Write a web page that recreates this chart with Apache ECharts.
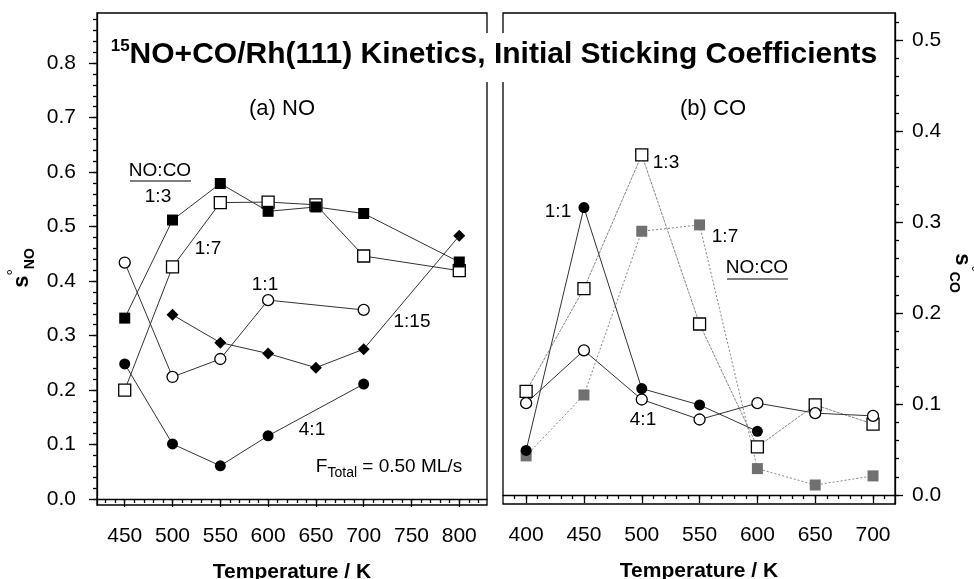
<!DOCTYPE html>
<html>
<head>
<meta charset="utf-8">
<script src="https://cdn.jsdelivr.net/npm/echarts@6/dist/echarts.min.js"></script>
<style>
  html, body { margin: 0; padding: 0; background: #fff; }
  #chart { width: 974px; height: 579px; }
</style>
</head>
<body>
<div id="chart"></div>
<script>
// (a) NO sticking coefficients
const tempsNO = [450, 500, 550, 600, 650, 700, 800];
const no13 = [0.332, 0.512, 0.579, 0.528, 0.536, 0.524, 0.435];
const no17 = [0.200, 0.426, 0.544, 0.545, 0.540, 0.446, 0.419];
const no11 = [0.434, 0.224, 0.257, 0.365, null, 0.347, null];
const no115 = [null, 0.338, 0.287, 0.267, 0.241, 0.275, 0.483];
const no41 = [0.248, 0.101, 0.061, 0.116, null, 0.211, null];

// (b) CO sticking coefficients
const tempsCO = [400, 450, 500, 550, 600, 650, 700];
const co13 = [0.114, 0.227, 0.374, 0.188, 0.053, 0.099, 0.078];
const co11 = [0.049, 0.316, 0.117, 0.099, 0.070, null, null];
const co41 = [0.101, 0.159, 0.105, 0.083, 0.101, 0.090, 0.087];
const co17 = [0.043, 0.110, 0.290, 0.297, 0.029, 0.011, 0.021];

// tick labels
const xTicksNO = [450, 500, 550, 600, 650, 700, 750, 800];
const xTicksCO = [400, 450, 500, 550, 600, 650, 700];
const yTicksNO = [0, 0.1, 0.2, 0.3, 0.4, 0.5, 0.6, 0.7, 0.8];
const yTicksCO = [0, 0.1, 0.2, 0.3, 0.4, 0.5];

const FONT = '"Liberation Sans", Arial, Helvetica, sans-serif';

function pairs(xs, ys) {
  return xs.map((x, i) => [x, ys[i]]).filter(p => p[1] != null);
}
function steps(from, to, step) {
  const out = [];
  for (let v = from; v <= to + 1e-9; v += step) out.push(+v.toFixed(4));
  return out;
}

const chart = echarts.init(document.getElementById('chart'));

const lineAxis = { lineStyle: { color: '#000', width: 1.3 } };
const tickStyle = { color: '#000', width: 1.3 };
const labelStyle = { color: '#000', fontSize: 21, fontFamily: FONT };
const nameStyle = { color: '#000', fontSize: 21, fontWeight: 'bold', fontFamily: FONT };

function majorX(grid, min, max, ticks) {
  return {
    gridIndex: grid, type: 'value', min: min, max: max, position: 'bottom',
    axisLine: lineAxis,
    axisTick: { customValues: ticks, length: 8, lineStyle: tickStyle },
    axisLabel: Object.assign({ customValues: ticks, margin: 21 }, labelStyle),
    splitLine: { show: false },
    name: 'Temperature / K', nameLocation: 'middle', nameGap: 57, nameTextStyle: nameStyle
  };
}
function minorAxis(grid, min, max, ticks, pos) {
  return {
    gridIndex: grid, type: 'value', min: min, max: max, position: pos,
    axisLine: { show: false },
    axisTick: { customValues: ticks, length: 4, lineStyle: tickStyle },
    axisLabel: { show: false },
    splitLine: { show: false }
  };
}
function majorY(grid, min, max, ticks, pos, margin) {
  return {
    gridIndex: grid, type: 'value', min: min, max: max, position: pos,
    axisLine: Object.assign({ show: true }, lineAxis),
    axisTick: { customValues: ticks, length: 8, lineStyle: tickStyle },
    axisLabel: Object.assign({ customValues: ticks, margin: margin, formatter: v => v.toFixed(1) }, labelStyle),
    splitLine: { show: false }
  };
}

const filledSq = { symbol: 'rect', symbolSize: 11, itemStyle: { color: '#000' } };
const openSq = { symbol: 'rect', symbolSize: 12, itemStyle: { color: '#fff', borderColor: '#000', borderWidth: 1.3 } };
const filledCi = { symbol: 'circle', symbolSize: 11, itemStyle: { color: '#000' } };
const openCi = { symbol: 'circle', symbolSize: 11, itemStyle: { color: '#fff', borderColor: '#000', borderWidth: 1.3 } };
const diamond = { symbol: 'diamond', symbolSize: 12, itemStyle: { color: '#000' } };
const graySq = { symbol: 'rect', symbolSize: 11, itemStyle: { color: '#707070' } };

function line(name, grid, data, marker, lineStyle) {
  return Object.assign({
    name: name, type: 'line', xAxisIndex: grid * 2, yAxisIndex: grid * 2,
    data: data, connectNulls: true, animation: false, silent: true,
    lineStyle: Object.assign({ color: '#333', width: 1 }, lineStyle || {})
  }, marker);
}

function label(text, x, y, size) {
  return {
    type: 'text', x: x, y: y, z: 60,
    style: { text: text, fill: '#000', fontSize: size || 19, fontFamily: FONT, align: 'center', verticalAlign: 'middle' }
  };
}
function underline(x1, x2, y) {
  return { type: 'line', z: 60, shape: { x1: x1, y1: y, x2: x2, y2: y }, style: { stroke: '#000', lineWidth: 1.2 } };
}

chart.setOption({
  backgroundColor: '#fff',
  animation: false,
  grid: [
    { left: 97, top: 13, width: 390, height: 492, show: true, borderColor: '#000', borderWidth: 1.3, outerBoundsMode: 'none', containLabel: false },
    { left: 503, top: 13, width: 392, height: 491, show: true, borderColor: '#000', borderWidth: 1.3, outerBoundsMode: 'none', containLabel: false }
  ],
  xAxis: [
    majorX(0, 421, 829, xTicksNO),
    minorAxis(0, 421, 829, steps(430, 820, 10), 'bottom'),
    majorX(1, 380, 719, xTicksCO),
    minorAxis(1, 380, 719, steps(390, 710, 10), 'bottom')
  ],
  yAxis: [
    majorY(0, -0.011, 0.892, yTicksNO, 'left', 21),
    minorAxis(0, -0.011, 0.892, steps(0, 0.88, 0.02), 'left'),
    majorY(1, -0.0099, 0.530, yTicksCO, 'right', 17),
    minorAxis(1, -0.0099, 0.530, steps(0, 0.52, 0.02), 'right')
  ],
  series: [
    line('NO 1:7', 0, pairs(tempsNO, no17), openSq),
    line('NO 1:3', 0, pairs(tempsNO, no13), filledSq),
    line('NO 1:1', 0, pairs(tempsNO, no11), openCi),
    line('NO 1:15', 0, pairs(tempsNO, no115), diamond),
    line('NO 4:1', 0, pairs(tempsNO, no41), filledCi),
    line('CO 1:7', 1, pairs(tempsCO, co17), graySq, { color: '#777', width: 0.9, type: [2, 2] }),
    line('CO 1:3', 1, pairs(tempsCO, co13), openSq, { color: '#666', width: 0.8, type: [3, 1] }),
    line('CO 4:1', 1, pairs(tempsCO, co41), openCi),
    line('CO 1:1', 1, pairs(tempsCO, co11), filledCi)
  ],
  graphic: [
    // title panel breaks the frames
    { type: 'rect', z: 50, shape: { x: 106, y: 33, width: 776, height: 49 }, style: { fill: '#fff' } },
    {
      type: 'text', x: 494, y: 55, z: 60,
      style: {
        text: '{sup|15}{main|NO+CO/Rh(111) Kinetics, Initial Sticking Coefficients}',
        align: 'center', verticalAlign: 'middle', fill: '#000',
        rich: {
          sup: { fontSize: 17, fontWeight: 'bold', fontFamily: FONT, verticalAlign: 'top', lineHeight: 17 },
          main: { fontSize: 30, fontWeight: 'bold', fontFamily: FONT, lineHeight: 34 }
        }
      }
    },
    label('(a) NO', 282, 109, 22),
    label('(b) CO', 713, 109, 22),
    // y axis names
    {
      type: 'text', x: 22, y: 268, rotation: Math.PI / 2, z: 60,
      style: {
        text: '{s|s}{d|°}{n|NO}', align: 'center', verticalAlign: 'middle', fill: '#000',
        rich: {
          s: { fontSize: 22, fontWeight: 'bold', fontFamily: FONT, lineHeight: 30 },
          d: { fontSize: 16, fontFamily: FONT, verticalAlign: 'top', lineHeight: 16 },
          n: { fontSize: 14, fontWeight: 'bold', fontFamily: FONT, verticalAlign: 'bottom', lineHeight: 14 }
        }
      }
    },
    {
      type: 'text', x: 962, y: 273, rotation: -Math.PI / 2, z: 60,
      style: {
        text: '{s|s}{d|°}{n|CO}', align: 'center', verticalAlign: 'middle', fill: '#000',
        rich: {
          s: { fontSize: 22, fontWeight: 'bold', fontFamily: FONT, lineHeight: 30 },
          d: { fontSize: 16, fontFamily: FONT, verticalAlign: 'top', lineHeight: 16 },
          n: { fontSize: 14, fontWeight: 'bold', fontFamily: FONT, verticalAlign: 'bottom', lineHeight: 14 }
        }
      }
    },
    // panel (a) annotations
    label('NO:CO', 160, 171),
    underline(130, 191, 181),
    label('1:3', 158, 197),
    label('1:7', 208, 249),
    label('1:1', 265, 285),
    label('1:15', 412, 322),
    label('4:1', 312, 430),
    {
      type: 'text', x: 389, y: 467, z: 60,
      style: {
        text: '{f|F}{t|Total}{f| = 0.50 ML/s}', align: 'center', verticalAlign: 'middle', fill: '#000',
        rich: {
          f: { fontSize: 19, fontFamily: FONT, lineHeight: 26 },
          t: { fontSize: 14, fontFamily: FONT, verticalAlign: 'bottom', lineHeight: 14 }
        }
      }
    },
    // panel (b) annotations
    label('1:3', 666, 163),
    label('1:1', 558, 212),
    label('1:7', 725, 237),
    label('NO:CO', 757, 268),
    underline(727, 788, 279),
    label('4:1', 643, 420)
  ]
});

window.addEventListener('resize', () => chart.resize());
</script>
</body>
</html>
